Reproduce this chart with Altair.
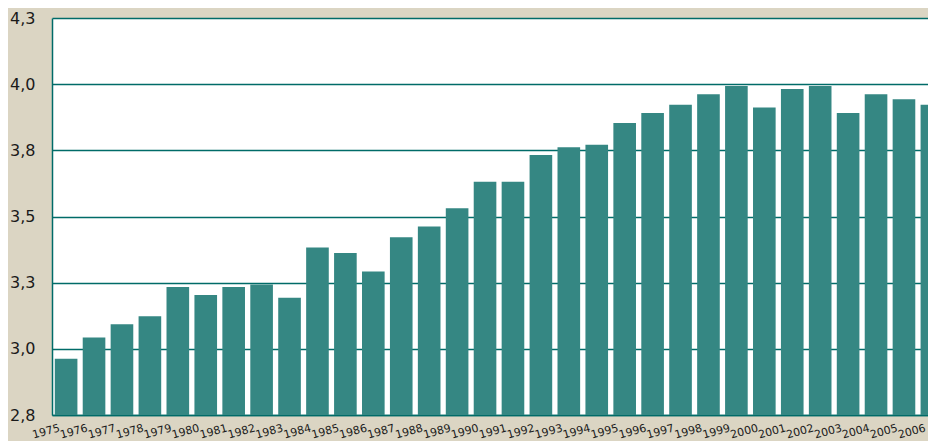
import altair as alt
import pandas as pd

years = ["1975", "1976", "1977", "1978", "1979", "1980", "1981", "1982",
         "1983", "1984", "1985", "1986", "1987", "1988", "1989", "1990",
         "1991", "1992", "1993", "1994", "1995", "1996", "1997", "1998",
         "1999", "2000", "2001", "2002", "2003", "2004", "2005", "2006"]
values = [2.963, 3.043, 3.093, 3.123, 3.234, 3.203, 3.234, 3.243,
          3.193, 3.383, 3.362, 3.292, 3.422, 3.462, 3.531, 3.631,
          3.631, 3.732, 3.762, 3.771, 3.853, 3.891, 3.922, 3.962,
          3.993, 3.912, 3.982, 3.993, 3.891, 3.962, 3.943, 3.922]
y_ticks = [2.75, 3.0, 3.25, 3.5, 3.75, 4.0, 4.25]

df = pd.DataFrame({"year": years, "value": values})

BEIGE = "#dbd5c3"
TEAL = "#006b68"
BAR = "#358783"

chart = alt.Chart(df).mark_bar(color=BAR, clip=True).encode(
    x=alt.X("year:N", sort=years,
            scale=alt.Scale(range=[0, 894], paddingInner=0.19, paddingOuter=0.1),
            axis=alt.Axis(title=None, labelAngle=345, labelAlign="right",
                          labelBaseline="top", labelPadding=7, labelFontSize=11,
                          labelOffset=-8,
                          labelFont="DejaVu Sans", labelColor="#1a1a1a",
                          ticks=False, domainColor=TEAL, domainWidth=1.5,
                          labelOverlap=False, labelBound=False)),
    y=alt.Y("value:Q", scale=alt.Scale(domain=[2.75, 4.25], nice=False, zero=False),
            axis=alt.Axis(title=None, values=y_ticks,
                          labelExpr="replace(format(datum.value, '.1f'), '.', ',')",
                          labelFontSize=16, labelFont="DejaVu Sans",
                          labelColor="#1a1a1a", labelPadding=17, ticks=False,
                          grid=True, gridColor=TEAL, gridWidth=1.5, gridOpacity=1,
                          domainColor=TEAL, domainWidth=1.5)),
).properties(
    width=876, height=397,
    background=BEIGE,
    autosize=alt.AutoSizeParams(type="none"),
    padding={"left": 44, "top": 10, "right": 0, "bottom": 26},
).configure_view(fill="white", stroke=None)

chart.save("out.html", embed_options={"renderer": "svg", "actions": False})
